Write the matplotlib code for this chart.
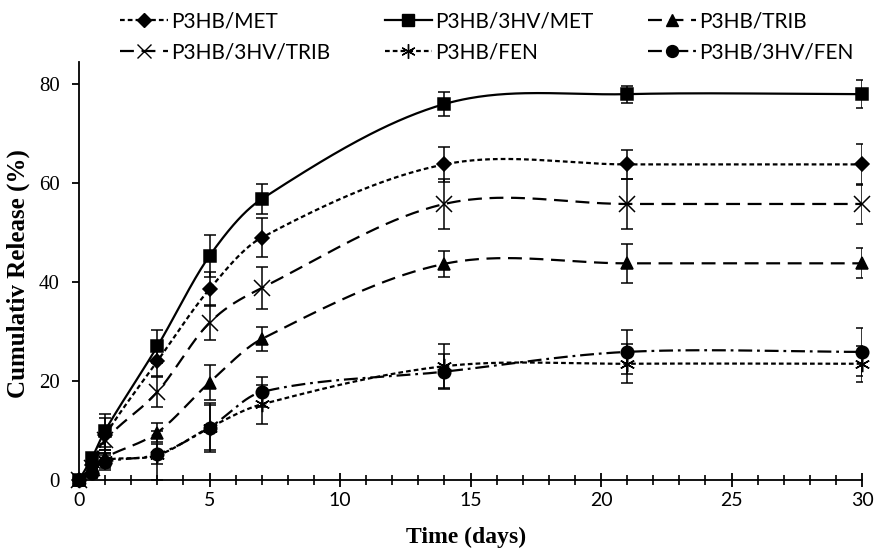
import numpy as np
import matplotlib
matplotlib.use("Agg")
import matplotlib.pyplot as plt
from matplotlib.ticker import MultipleLocator

# Sampling times (days)
days = [0, 0.5, 1, 3, 5, 7, 14, 21, 30]

# Cumulative release (%) and standard deviations per formulation
p3hb_met = [0, 3, 9, 24, 38.6, 49, 63.8, 63.8, 63.8]
p3hb_met_err = [0, 1, 3.5, 3, 3.5, 4, 3.6, 2.9, 4.2]

p3hb_3hv_met = [0, 4.5, 10, 27, 45.3, 56.8, 76, 78, 78]
p3hb_3hv_met_err = [0, 1, 3.3, 3.4, 4.2, 3, 2.5, 1.7, 2.8]

p3hb_trib = [0, 2, 4.5, 9.6, 19.7, 28.5, 43.7, 43.8, 43.8]
p3hb_trib_err = [0, 1, 1.5, 2, 3.5, 2.5, 2.6, 3.9, 3]

p3hb_3hv_trib = [0, 2.5, 8, 17.8, 31.8, 38.8, 55.8, 55.8, 55.8]
p3hb_3hv_trib_err = [0, 1, 2, 3, 3.5, 4.3, 5, 5, 4]

p3hb_fen = [0, 2, 4, 5, 10.6, 15.3, 23, 23.5, 23.5]
p3hb_fen_err = [0, 1, 1.5, 5, 4.5, 4, 4.5, 3.9, 3.6]

p3hb_3hv_fen = [0, 1.5, 3.6, 5.2, 10.6, 17.8, 21.9, 25.9, 25.9]
p3hb_3hv_fen_err = [0, 1, 1.5, 2, 5, 3, 3.6, 4.5, 4.9]

labels = ["P3HB/MET", "P3HB/3HV/MET", "P3HB/TRIB",
          "P3HB/3HV/TRIB", "P3HB/FEN", "P3HB/3HV/FEN"]

plt.rcParams["lines.scale_dashes"] = False

SERIF = "Liberation Serif"
SANS = "Lato"


def smooth_curve(x, y, n=60):
    """Piecewise cubic Hermite curve through the points (finite-difference slopes)."""
    x = np.asarray(x, float)
    y = np.asarray(y, float)
    m = np.empty_like(y)
    m[0] = (y[1] - y[0]) / (x[1] - x[0])
    m[-1] = (y[-1] - y[-2]) / (x[-1] - x[-2])
    m[1:-1] = (y[2:] - y[:-2]) / (x[2:] - x[:-2])
    xs, ys = [], []
    for i in range(len(x) - 1):
        h = x[i + 1] - x[i]
        t = np.linspace(0, 1, n)
        h00 = 2 * t ** 3 - 3 * t ** 2 + 1
        h10 = t ** 3 - 2 * t ** 2 + t
        h01 = -2 * t ** 3 + 3 * t ** 2
        h11 = t ** 3 - t ** 2
        seg = h00 * y[i] + h10 * h * m[i] + h01 * y[i + 1] + h11 * h * m[i + 1]
        sl = slice(None) if i == 0 else slice(1, None)
        xs.append((x[i] + t * h)[sl])
        ys.append(seg[sl])
    return np.concatenate(xs), np.concatenate(ys)


short_dash = (0, (3.4, 2.2))
long_dash = (0, (10, 5.5))
dash_dot = (0, (10, 3.5, 2, 3.5))

series = [
    (p3hb_met, p3hb_met_err, "D", 7, short_dash),
    (p3hb_3hv_met, p3hb_3hv_met_err, "s", 8.5, "-"),
    (p3hb_trib, p3hb_trib_err, "^", 8.5, long_dash),
    (p3hb_3hv_trib, p3hb_3hv_trib_err, "x", 11, long_dash),
    (p3hb_fen, p3hb_fen_err, (6, 2, 0), 11, short_dash),
    (p3hb_3hv_fen, p3hb_3hv_fen_err, "o", 9, dash_dot),
]

fig = plt.figure(figsize=(8.75, 5.48), dpi=100)
ax = fig.add_axes([79 / 875, 68 / 548, 783 / 875, 418 / 548])

handles = []
for (vals, errs, mk, ms, ls), lab in zip(series, labels):
    sx, sy = smooth_curve(days, vals)
    ax.plot(sx, sy, color="black", lw=1.6, linestyle=ls, zorder=2)
    ax.errorbar(days, vals, yerr=errs, fmt="none", ecolor="black",
                elinewidth=1.1, capsize=4.5, capthick=1.1, zorder=3)
    ax.plot(days, vals, linestyle="none", marker=mk, markersize=ms,
            color="black", markeredgewidth=1.1, zorder=4, clip_on=False)
    h, = ax.plot([], [], color="black", lw=1.6, linestyle=ls, marker=mk,
                 markersize=ms * 0.95, markeredgewidth=1.0, label=lab)
    handles.append(h)

ax.set_xlim(0, 30)
ax.set_ylim(0, 84.5)
ax.xaxis.set_major_locator(MultipleLocator(5))
ax.xaxis.set_minor_locator(MultipleLocator(1))
ax.yaxis.set_major_locator(MultipleLocator(20))

for s in ("top", "right"):
    ax.spines[s].set_visible(False)
for s in ("left", "bottom"):
    ax.spines[s].set_linewidth(1.3)
    ax.spines[s].set_color("black")

ax.tick_params(axis="x", which="major", direction="inout", length=10,
               width=1.3, pad=4)
ax.tick_params(axis="x", which="minor", direction="inout", length=7,
               width=1.2)
ax.tick_params(axis="y", which="major", direction="out", length=5,
               width=1.3, pad=9)

for lbl in ax.get_xticklabels():
    lbl.set_fontfamily(SANS)
    lbl.set_fontsize(14)
for lbl in ax.get_yticklabels():
    lbl.set_fontfamily(SERIF)
    lbl.set_fontsize(15)

fig.text(18 / 875, 1 - 274 / 548, "Cumulativ Release (%)", rotation=90,
         ha="center", va="center", fontfamily=SERIF, fontweight="bold",
         fontsize=18)
fig.text(466 / 875, 1 - 537 / 548, "Time (days)", ha="center", va="center",
         fontfamily=SERIF, fontweight="bold", fontsize=17)

# legend laid out in two rows of three entries (row-major order)
order = [0, 3, 1, 4, 2, 5]
fig.legend([handles[i] for i in order], [labels[i] for i in order],
           loc="upper left", bbox_to_anchor=(116 / 875, 1 - 7 / 548), ncol=3,
           frameon=False, prop={"family": SANS, "size": 15},
           handlelength=2.3, handletextpad=0.15, columnspacing=2.6,
           labelspacing=0.55, borderpad=0.2, borderaxespad=0.0)

fig.savefig("out.png", dpi=100)
